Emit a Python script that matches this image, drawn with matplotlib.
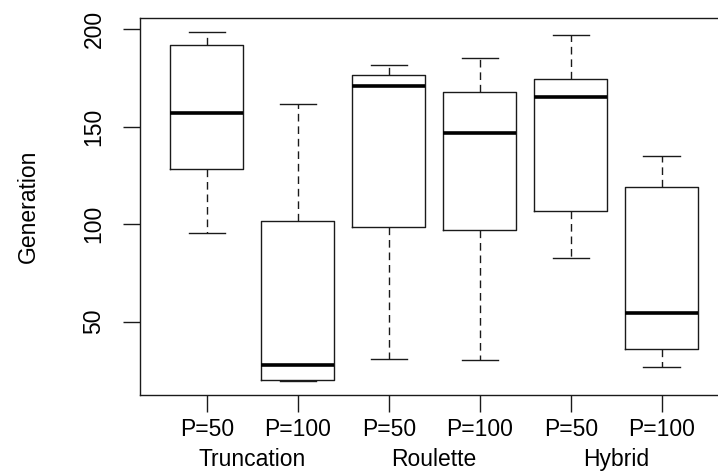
import matplotlib
matplotlib.use("Agg")
import matplotlib.pyplot as plt

plt.rcParams["font.family"] = ["Liberation Sans", "DejaVu Sans"]

LINE = "#1a1a1a"

# one entry per box, left to right
tick_labels = ["P=50", "P=100", "P=50", "P=100", "P=50", "P=100"]
groups = ["Truncation", "Roulette", "Hybrid"]
whislo = [95.6, 19.5, 30.9, 30.1, 82.8, 27.0]
q1 = [128.4, 20.0, 98.5, 97.2, 106.7, 35.9]
med = [156.9, 27.8, 170.8, 146.6, 165.4, 54.3]
q3 = [192.2, 101.6, 176.4, 167.8, 174.4, 118.9]
whishi = [198.5, 161.8, 181.7, 185.3, 197.2, 135.0]
yticks = [50, 100, 150, 200]


def main():
    stats = []
    for lo, a, m, b, hi in zip(whislo, q1, med, q3, whishi):
        stats.append({"whislo": lo, "q1": a, "med": m, "q3": b, "whishi": hi, "fliers": []})

    fig = plt.figure(figsize=(7.18, 4.76), dpi=100, facecolor="white")
    # right edge of the frame is cut off in the original, so the axes run past the figure
    ax = fig.add_axes([0.1943, 0.170, 0.821, 0.7916])

    n = len(stats)
    pos = list(range(1, n + 1))
    ax.bxp(stats, positions=pos, widths=0.8, showfliers=False,
           boxprops=dict(color=LINE, linewidth=1.0),
           medianprops=dict(color="black", linewidth=2.6, solid_capstyle="butt"),
           whiskerprops=dict(color=LINE, linewidth=1.0, linestyle=(0, (5.5, 3.5))),
           capprops=dict(color=LINE, linewidth=1.0),
           capwidths=0.4)

    lo, hi = min(whislo), max(whishi)
    pad = (hi - lo) * 0.04
    ax.set_ylim(lo - pad, hi + pad)
    ax.set_xlim(0.5 - 0.24, n + 0.5 + 0.24)

    ax.set_xticks(pos)
    ax.set_xticklabels(tick_labels, fontsize=16.5)
    ax.set_yticks(yticks)
    ax.set_yticklabels([str(v) for v in yticks], fontsize=16.5, rotation=90, va="center")
    ax.tick_params(axis="both", direction="out", length=12.5, width=1.0, color=LINE)
    ax.tick_params(axis="x", pad=4)
    ax.tick_params(axis="y", pad=12)
    for sp in ax.spines.values():
        sp.set_color(LINE)
        sp.set_linewidth(1.0)

    ax.set_ylabel("Generation", fontsize=16.5, labelpad=31)

    for i, g in enumerate(groups):
        ax.text(2 * i + 1.5, -0.17, g, transform=ax.get_xaxis_transform(),
                ha="center", va="center", fontsize=16.5)

    fig.savefig("out.png", dpi=100, facecolor="white")


if __name__ == "__main__":
    main()
